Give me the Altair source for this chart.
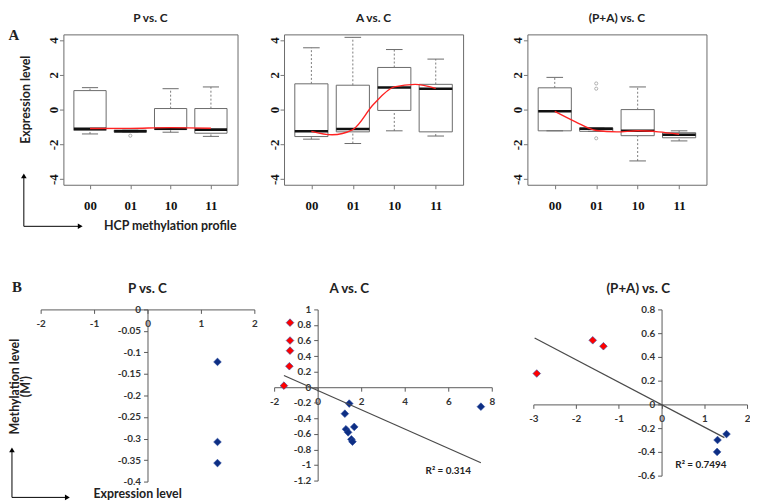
import altair as alt
import pandas as pd

# ---------------- data ----------------
CATS = ["00", "01", "10", "11"]
POS = [1, 2, 3, 4]

# Panel A1: P vs. C (box statistics per HCP methylation profile)
pc_lo = [-1.40, -1.30, -1.30, -1.54]
pc_q1 = [-1.20, -1.30, -1.15, -1.36]
pc_med = [-1.10, -1.25, -1.10, -1.15]
pc_q3 = [1.09, -1.18, 0.06, 0.06]
pc_hi = [1.26, -1.18, 1.20, 1.30]
pc_out_x = [2]
pc_out_y = [-1.50]
pc_fit_x = [1, 2, 3, 4]
pc_fit_y = [-1.09, -1.08, -1.04, -1.07]

# Panel A2: A vs. C
ac_lo = [-1.70, -1.95, -1.22, -1.52]
ac_q1 = [-1.55, -1.28, -0.05, -1.28]
ac_med = [-1.25, -1.12, 1.27, 1.20]
ac_q3 = [1.48, 1.40, 2.42, 1.45]
ac_hi = [3.55, 4.15, 3.45, 2.90]
ac_out_x = []
ac_out_y = []
ac_fit_x = [1, 1.5, 2, 2.5, 3, 3.5, 4]
ac_fit_y = [-1.25, -1.45, -1.15, 0.30, 1.30, 1.45, 1.22]

# Panel A3: (P+A) vs. C
pac_lo = [-1.22, -1.25, -2.95, -1.80]
pac_q1 = [-1.22, -1.25, -1.50, -1.62]
pac_med = [-0.10, -1.10, -1.22, -1.45]
pac_q3 = [1.25, -1.05, 0.00, -1.33]
pac_hi = [1.85, -1.05, 1.30, -1.22]
pac_out_x = [2, 2, 2]
pac_out_y = [1.50, 1.20, -1.65]
pac_fit_x = [1, 1.5, 2, 2.5, 3, 3.5, 4]
pac_fit_y = [-0.10, -0.70, -1.20, -1.28, -1.22, -1.28, -1.42]

# Panel B1: P vs. C scatter (expression vs methylation)
b1_blue_x = [1.31, 1.31, 1.31]
b1_blue_y = [-0.122, -0.308, -0.357]
b1_red_x = []
b1_red_y = []

# Panel B2: A vs. C
b2_red_x = [-1.55, -1.27, -1.27, -1.27, -1.30]
b2_red_y = [0.02, 0.83, 0.60, 0.47, 0.27]
b2_blue_x = [1.45, 1.25, 1.30, 1.40, 1.68, 1.55, 1.60, 7.50]
b2_blue_y = [-0.21, -0.34, -0.54, -0.58, -0.51, -0.67, -0.70, -0.25]
b2_trend_x = [-1.55, 7.50]
b2_trend_y = [0.15, -0.97]
b2_r2 = ["R² = 0.314"]
b2_r2_x = [6.0]
b2_r2_y = [-1.08]

# Panel B3: (P+A) vs. C
b3_red_x = [-2.92, -1.61, -1.36]
b3_red_y = [0.26, 0.54, 0.49]
b3_blue_x = [1.31, 1.30, 1.52]
b3_blue_y = [-0.30, -0.40, -0.25]
b3_trend_x = [-2.97, 1.47]
b3_trend_y = [0.56, -0.28]
b3_r2 = ["R² = 0.7494"]
b3_r2_x = [0.92]
b3_r2_y = [-0.51]

# ---------------- helpers ----------------
SANS = "Lato"
SERIF = "Liberation Serif"
ONE = pd.DataFrame({"k": [0]})
cat_expr = "[" + ",".join("'%s'" % c for c in CATS) + "][datum.value - 1]"
num_expr = "'' + datum.value"


def txt(s, x, y, size=12.5, font=SANS, angle=0, weight="bold", color="#222"):
    return alt.Chart(ONE).mark_text(
        text=s, font=font, fontSize=size, fontWeight=weight, color=color,
        angle=angle, align="center", baseline="middle"
    ).encode(x=alt.value(x), y=alt.value(y))


def arrow(xv, y_top, y_bot, x_right):
    v = alt.Chart(ONE).mark_rule(color="black", strokeWidth=1).encode(
        x=alt.value(xv), y=alt.value(y_top + 3), y2=alt.value(y_bot))
    h = alt.Chart(ONE).mark_rule(color="black", strokeWidth=1).encode(
        x=alt.value(xv), x2=alt.value(x_right - 3), y=alt.value(y_bot))
    hu = alt.Chart(ONE).mark_point(shape="triangle-up", filled=True, size=32,
                                   color="black", opacity=1).encode(
        x=alt.value(xv), y=alt.value(y_top + 3))
    hr = alt.Chart(ONE).mark_point(shape="triangle-right", filled=True, size=32,
                                   color="black", opacity=1).encode(
        x=alt.value(x_right - 3), y=alt.value(y_bot))
    return [v, h, hu, hr]


def box_panel(title, lo, q1, med, q3, hi, ox, oy, fx, fy, width, height, extra):
    df = pd.DataFrame({"pos": POS, "lo": lo, "q1": q1, "med": med, "q3": q3, "hi": hi})
    xs = alt.Scale(domain=[0.34, 4.66], nice=False, zero=False)
    ys = alt.Scale(domain=[-4.32, 4.32], nice=False, zero=False)
    xax = alt.Axis(values=POS, labelExpr=cat_expr, title=None, grid=False,
                   domain=False, tickSize=4, tickColor="#777",
                   labelFont=SERIF, labelFontWeight="bold", labelFontSize=13,
                   labelColor="#111", labelPadding=11, labelFlush=False,
                   labelOverlap=False)
    yax = alt.Axis(values=[-4, -2, 0, 2, 4], labelExpr=num_expr, title=None,
                   grid=False, domain=False, tickSize=4, tickColor="#777",
                   labelAngle=270, labelFont=SERIF, labelFontWeight="bold",
                   labelFontSize=13, labelColor="#111", labelPadding=6,
                   labelFlush=False, labelOverlap=False,
                   labelAlign="center", labelBaseline="middle")

    def X(f):
        return alt.X(f, scale=xs, axis=xax)

    def Y(f):
        return alt.Y(f, scale=ys, axis=yax)

    base = alt.Chart(df).transform_calculate(
        x0="datum.pos - 0.4", x1="datum.pos + 0.4",
        c0="datum.pos - 0.2", c1="datum.pos + 0.2")
    box = base.mark_rect(fill="white", stroke="#6a6a6a", strokeWidth=1).encode(
        x=X("x0:Q"), x2="x1:Q", y=Y("q1:Q"), y2="q3:Q")
    wu = base.mark_rule(color="#7a7a7a", strokeDash=[2, 2]).encode(
        x=X("pos:Q"), y=Y("q3:Q"), y2="hi:Q")
    wd = base.mark_rule(color="#7a7a7a", strokeDash=[2, 2]).encode(
        x=X("pos:Q"), y=Y("lo:Q"), y2="q1:Q")
    cu = base.mark_rule(color="#6a6a6a").encode(x=X("c0:Q"), x2="c1:Q", y=Y("hi:Q"))
    cd = base.mark_rule(color="#6a6a6a").encode(x=X("c0:Q"), x2="c1:Q", y=Y("lo:Q"))
    md = base.mark_rule(color="#111", strokeWidth=2.6).encode(
        x=X("x0:Q"), x2="x1:Q", y=Y("med:Q"))
    layers = [box, wu, wd, cu, cd, md]
    if ox:
        out = alt.Chart(pd.DataFrame({"x": ox, "y": oy})).mark_point(
            shape="circle", size=10, color="#777", strokeWidth=0.8).encode(
            x=X("x:Q"), y=Y("y:Q"))
        layers.append(out)
    fit = alt.Chart(pd.DataFrame({"x": fx, "y": fy})).mark_line(
        color="#ff2222", strokeWidth=1.4, interpolate="monotone").encode(
        x=X("x:Q"), y=Y("y:Q"))
    layers.append(fit)
    layers.append(txt(title, width / 2, -17, size=12))
    layers += extra
    return alt.layer(*layers).properties(
        width=width, height=height,
        view=alt.ViewBackground(stroke="#6a6a6a", strokeWidth=1))


def scatter_panel(title, rx, ry, bx, by, tx, ty, r2, r2x, r2y, xdom, ydom,
                  xvals, yvals, width, height, tdx, extra):
    xs = alt.Scale(domain=xdom, nice=False, zero=False)
    ys = alt.Scale(domain=ydom, nice=False, zero=False)
    off_x = -(height * (0 - ydom[0]) / (ydom[1] - ydom[0]))
    off_y = -(width * (0 - xdom[0]) / (xdom[1] - xdom[0]))
    common = dict(title=None, grid=False, domainColor="#595959", tickColor="#595959",
                  tickSize=4, labelFont=SANS, labelFontWeight="bold",
                  labelFontSize=10, labelColor="#333", labelExpr=num_expr,
                  labelFlush=False, labelOverlap=False)
    xax = alt.Axis(orient="bottom", values=xvals, offset=off_x, labelPadding=5, **common)
    yax = alt.Axis(orient="left", values=yvals, offset=off_y, labelPadding=3, **common)

    def X(f):
        return alt.X(f, scale=xs, axis=xax)

    def Y(f):
        return alt.Y(f, scale=ys, axis=yax)

    pts = pd.DataFrame({
        "x": list(rx) + list(bx), "y": list(ry) + list(by),
        "g": ["hyper"] * len(rx) + ["hypo"] * len(bx)})
    points = alt.Chart(pts).mark_point(
        shape="diamond", filled=True, size=60, opacity=1,
        stroke="#2a4aa0", strokeWidth=0.6).encode(
        x=X("x:Q"), y=Y("y:Q"),
        fill=alt.Fill("g:N", scale=alt.Scale(domain=["hyper", "hypo"],
                                             range=["#ff0000", "#0d2e84"]),
                      legend=None))
    layers = [points]
    if tx:
        trend = alt.Chart(pd.DataFrame({"x": tx, "y": ty})).mark_line(
            color="#4a4a4a", strokeWidth=1.2).encode(x=X("x:Q"), y=Y("y:Q"))
        layers.append(trend)
    if r2:
        lab = alt.Chart(pd.DataFrame({"t": r2, "x": r2x, "y": r2y})).mark_text(
            font=SANS, fontSize=10, fontWeight="bold", color="#222").encode(
            x=X("x:Q"), y=Y("y:Q"), text="t:N")
        layers.append(lab)
    layers.append(txt(title, width / 2 + tdx, -21, size=13.5))
    layers += extra
    return alt.layer(*layers).properties(
        width=width, height=height,
        view=alt.ViewBackground(strokeOpacity=0))


def spacer(w, h):
    return alt.Chart(ONE).mark_point(opacity=0).encode(
        x=alt.X("k:Q", axis=None), y=alt.Y("k:Q", axis=None)
    ).properties(width=w, height=h, view=alt.ViewBackground(strokeOpacity=0))


# ---------------- panels ----------------
A_H = 152
a1_extra = [
    txt("A", -50, 1, size=15, font=SERIF),
    txt("Expression level", -38, 66, angle=270),
    txt("HCP methylation profile", 108, 194),
] + arrow(-40, 140, 194, 20)

A1 = box_panel("P vs. C", pc_lo, pc_q1, pc_med, pc_q3, pc_hi, pc_out_x, pc_out_y,
               pc_fit_x, pc_fit_y, 176, A_H, a1_extra)
A2 = box_panel("A vs. C", ac_lo, ac_q1, ac_med, ac_q3, ac_hi, ac_out_x, ac_out_y,
               ac_fit_x, ac_fit_y, 181, A_H, [])
A3 = box_panel("(P+A) vs. C", pac_lo, pac_q1, pac_med, pac_q3, pac_hi, pac_out_x,
               pac_out_y, pac_fit_x, pac_fit_y, 181, A_H, [])

b1_extra = [
    txt("B", -24, -23, size=15, font=SERIF),
    txt("Methylation level", -26, 78, angle=270),
    txt("(M')", -15, 78, angle=270),
    txt("Expression level", 98, 187),
] + arrow(-29, 139, 190, 30)

B_H = 174
B1 = scatter_panel("P vs. C", b1_red_x, b1_red_y, b1_blue_x, b1_blue_y, [], [],
                   [], [], [], [-2, 2], [-0.4, 0],
                   [-2, -1, 0, 1, 2],
                   [-0.4, -0.35, -0.3, -0.25, -0.2, -0.15, -0.1, -0.05, 0],
                   216, B_H, 0, b1_extra)
B2 = scatter_panel("A vs. C", b2_red_x, b2_red_y, b2_blue_x, b2_blue_y,
                   b2_trend_x, b2_trend_y, b2_r2, b2_r2_x, b2_r2_y,
                   [-2, 8], [-1.2, 1],
                   [-2, 0, 2, 4, 6, 8],
                   [-1.2, -1, -0.8, -0.6, -0.4, -0.2, 0, 0.2, 0.4, 0.6, 0.8, 1],
                   220, 173, -34, [])
B3 = scatter_panel("(P+A) vs. C", b3_red_x, b3_red_y, b3_blue_x, b3_blue_y,
                   b3_trend_x, b3_trend_y, b3_r2, b3_r2_x, b3_r2_y,
                   [-3, 2], [-0.6, 0.8],
                   [-3, -2, -1, 0, 1, 2],
                   [-0.6, -0.4, -0.2, 0, 0.2, 0.4, 0.6, 0.8],
                   216, 168, -2, [])

top = alt.hconcat(spacer(23, A_H), A1, spacer(47, A_H), A2, spacer(65, A_H), A3,
                  spacing=0, bounds="flush")
bottom = alt.hconcat(B1, spacer(20, B_H), B2, spacer(42, B_H), B3,
                     spacing=0, bounds="flush")
chart = alt.vconcat(top, bottom, spacing=47).properties(
    padding=0
).configure_axis(labelOverlap=False, labelFlush=False, grid=False)

chart.save("out.html", embed_options={"renderer": "svg", "actions": False})
